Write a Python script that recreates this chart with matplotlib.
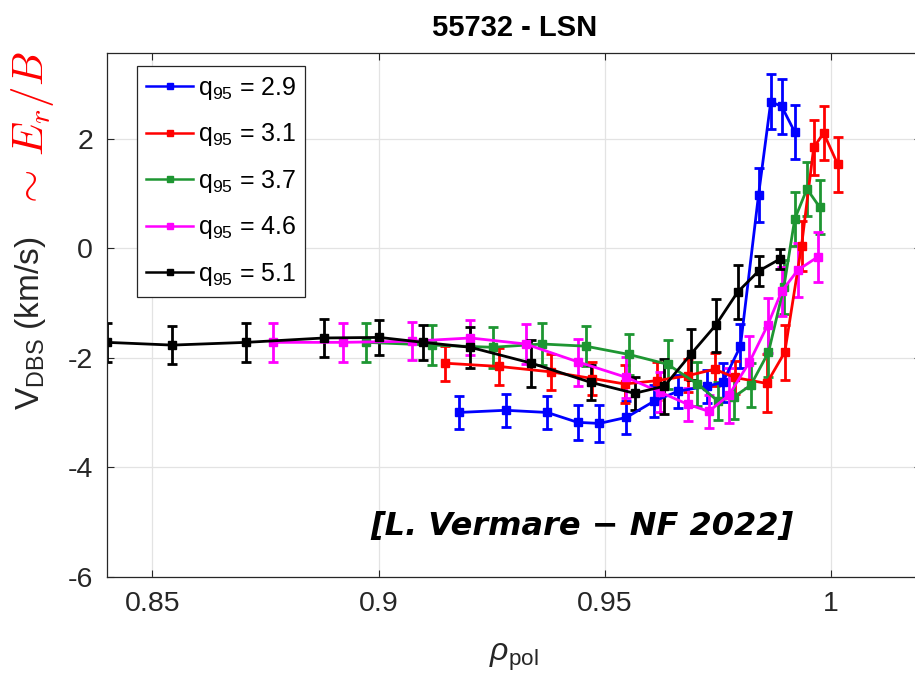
import matplotlib
matplotlib.use('Agg')
import matplotlib.pyplot as plt
from matplotlib.lines import Line2D

plt.rcParams['font.family'] = ['Liberation Sans', 'DejaVu Sans']
plt.rcParams['mathtext.fontset'] = 'custom'
plt.rcParams['mathtext.rm'] = 'Liberation Sans'
plt.rcParams['mathtext.it'] = 'Liberation Sans:italic'
plt.rcParams['mathtext.bf'] = 'Liberation Sans:bold'
plt.rcParams['axes.unicode_minus'] = False

# --- data ---
q95_labels = ['2.9', '3.1', '3.7', '4.6', '5.1']
colors = ['#0000ff', '#ff0000', '#1e9632', '#ff00ff', '#000000']

rho_q29 = [0.9177, 0.9281, 0.9373, 0.9440, 0.9488, 0.9548, 0.9610, 0.9663, 0.9727,
           0.9761, 0.9800, 0.9840, 0.9867, 0.9891, 0.9920]
v_q29 = [-3.00, -2.96, -3.00, -3.18, -3.20, -3.09, -2.79, -2.61, -2.52,
         -2.45, -1.79, 0.97, 2.67, 2.59, 2.12]
e_q29 = [0.30, 0.30, 0.30, 0.32, 0.33, 0.30, 0.30, 0.30, 0.30, 0.35, 0.40, 0.50, 0.50, 0.50, 0.50]

rho_q31 = [0.9146, 0.9267, 0.9382, 0.9473, 0.9544, 0.9615, 0.9683, 0.9743, 0.9787,
           0.9858, 0.9898, 0.9935, 0.9962, 0.9984, 1.0015]
v_q31 = [-2.10, -2.16, -2.26, -2.38, -2.48, -2.42, -2.33, -2.21, -2.36,
         -2.47, -1.90, 0.04, 1.84, 2.10, 1.53]
e_q31 = [0.32, 0.33, 0.33, 0.30, 0.35, 0.35, 0.30, 0.30, 0.30, 0.53, 0.50, 0.45, 0.50, 0.50, 0.50]

rho_q37 = [0.8973, 0.9119, 0.9252, 0.9362, 0.9458, 0.9553, 0.9639, 0.9705, 0.9750,
           0.9785, 0.9823, 0.9862, 0.9896, 0.9920, 0.9947, 0.9975]
v_q37 = [-1.72, -1.77, -1.81, -1.75, -1.79, -1.94, -2.12, -2.48, -2.79,
         -2.72, -2.50, -1.90, -0.71, 0.53, 1.08, 0.75]
e_q37 = [0.35, 0.37, 0.37, 0.38, 0.37, 0.37, 0.45, 0.40, 0.35, 0.40, 0.40, 0.45, 0.50, 0.50, 0.50, 0.50]

rho_q46 = [0.8767, 0.8922, 0.9073, 0.9203, 0.9325, 0.9442, 0.9548, 0.9623, 0.9683,
           0.9730, 0.9774, 0.9820, 0.9860, 0.9891, 0.9927, 0.9971]
v_q46 = [-1.72, -1.72, -1.70, -1.64, -1.75, -2.08, -2.36, -2.63, -2.85,
         -2.98, -2.69, -2.08, -1.41, -0.79, -0.40, -0.16]
e_q46 = [0.35, 0.35, 0.35, 0.32, 0.36, 0.43, 0.38, 0.36, 0.30, 0.30, 0.50, 0.47, 0.50, 0.45, 0.50, 0.45]

rho_q51 = [0.8400, 0.8544, 0.8708, 0.8880, 0.9002, 0.9099, 0.9203, 0.9338, 0.9469,
           0.9566, 0.9632, 0.9690, 0.9745, 0.9794, 0.9840, 0.9887]
v_q51 = [-1.72, -1.77, -1.72, -1.64, -1.63, -1.72, -1.81, -2.10, -2.45,
         -2.65, -2.52, -1.94, -1.41, -0.80, -0.42, -0.20]
e_q51 = [0.35, 0.35, 0.35, 0.35, 0.32, 0.32, 0.37, 0.43, 0.32, 0.30, 0.50, 0.47, 0.49, 0.49, 0.27, 0.18]

series = [(rho_q29, v_q29, e_q29), (rho_q31, v_q31, e_q31), (rho_q37, v_q37, e_q37),
          (rho_q46, v_q46, e_q46), (rho_q51, v_q51, e_q51)]

xticks = [0.85, 0.9, 0.95, 1.0]
xticklabels = ['0.85', '0.9', '0.95', '1']
yticks = [-6, -4, -2, 0, 2]

fig = plt.figure(figsize=(9.15, 6.81), dpi=100)
ax = fig.add_axes([0.117, 0.153, 0.890, 0.769])

handles = []
for (r, v, e), lab, c in zip(series, q95_labels, colors):
    ax.errorbar(r, v, yerr=e, color=c, marker='s', markersize=6, linewidth=2.0,
                elinewidth=2.0, capsize=3.5, capthick=2.0)
    handles.append(Line2D([], [], color=c, marker='s', markersize=5, linewidth=1.8,
                          label=r'q$_{\mathrm{95}}$ = ' + lab))

ax.set_xlim(0.84, 1.02)
ax.set_ylim(-6, 3.56)
ax.set_xticks(xticks)
ax.set_xticklabels(xticklabels)
ax.set_yticks(yticks)
ax.tick_params(direction='in', top=True, right=True, labelsize=20.5, colors='#262626',
               length=5, width=0.8, pad=10)
ax.grid(True, color='#e3e3e3', linewidth=0.9)
ax.set_axisbelow(True)
for s in ax.spines.values():
    s.set_color('#262626')
    s.set_linewidth(0.9)

ax.set_title('55732 - LSN', fontsize=21, fontweight='bold', pad=12)
ax.set_xlabel(r'$\rho_{\mathrm{pol}}$', fontsize=23, color='#262626', labelpad=18)

fig.text(0.033, 1 - 410 / 681, r'V$_{\mathrm{DBS}}$ (km/s)', rotation=90,
         ha='center', va='bottom', fontsize=24, color='#262626')
fig.text(0.036, 1 - 210 / 681, r'$\sim\, E_r/B$', rotation=90, ha='center', va='bottom',
         fontsize=31, color='red', math_fontfamily='cm')

ax.text(0.9449, -5.08, '[L. Vermare \u2212 NF 2022]', ha='center', va='center',
        fontsize=23, fontweight='bold', fontstyle='italic', family='DejaVu Sans')

leg = ax.legend(handles=handles, loc='upper left', bbox_to_anchor=(137 / 915, 1 - 66 / 681),
                bbox_transform=fig.transFigure, fontsize=18, handlelength=1.9,
                handletextpad=0.2, labelspacing=0.78, borderpad=0.35, borderaxespad=0,
                fancybox=False, framealpha=1, edgecolor='#262626')
leg.get_frame().set_linewidth(0.9)

fig.savefig('out.png', dpi=100)
